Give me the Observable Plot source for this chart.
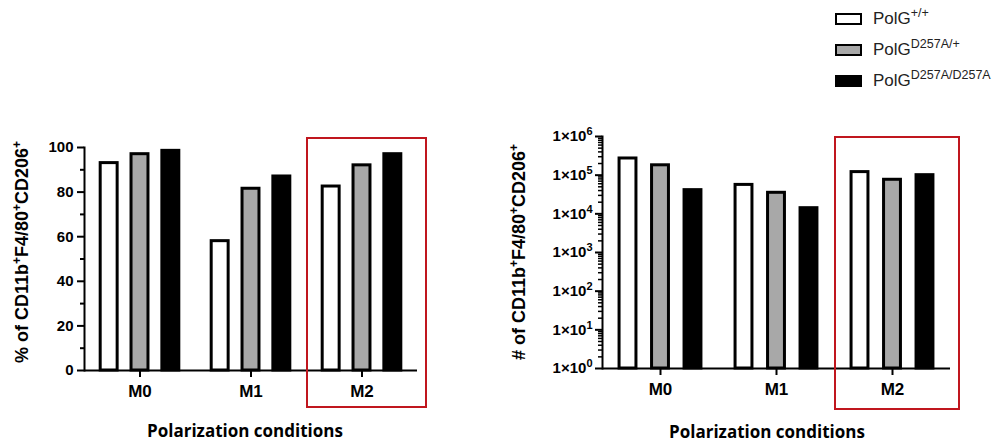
<!DOCTYPE html>
<html><head><meta charset="utf-8">
<script src="https://cdn.jsdelivr.net/npm/d3@7"></script>
<script src="https://cdn.jsdelivr.net/npm/@observablehq/plot@0.6"></script>
<style>
html,body{margin:0;padding:0;background:#fff;}
#root{position:relative;width:1003px;height:445px;overflow:hidden;background:#fff;}
#left{position:absolute;left:0;top:0;}
#right{position:absolute;left:480px;top:0;}
#legend{position:absolute;left:835px;top:0;font-family:"Liberation Sans",Arial,sans-serif;color:#222;}
.row{position:absolute;left:0;height:20px;display:flex;align-items:center;white-space:nowrap;}
.sw{width:27px;height:12px;box-sizing:border-box;border:2.5px solid #000;margin-right:11px;}
.lab{font-size:17px;}
.lab sup{font-size:12.5px;vertical-align:0;position:relative;top:-7px;}
</style></head>
<body><div id="root"><div id="left"></div><div id="right"></div><div id="legend"></div></div>
<script>
// ---- data ----
const conditions = ["M0", "M1", "M2"];
const genotypes = ["+/+", "D257A/+", "D257A/D257A"];
const genotypeFills = ["#ffffff", "#a8a8a8", "#000000"];
// % of CD11b+F4/80+CD206+
const pctWT  = [93, 58, 82.5];
const pctHet = [97, 81.5, 92];
const pctHom = [98.5, 87, 97];
// # of CD11b+F4/80+CD206+
const numWT  = [2.7e5, 5.6e4, 1.2e5];
const numHet = [1.8e5, 3.5e4, 7.6e4];
const numHom = [4.1e4, 1.4e4, 1.0e5];
// ticks
const pctTicks = [0, 20, 40, 60, 80, 100];
const pctMinorTicks = [10, 30, 50, 70, 90];
const logTicks = [1, 10, 100, 1000, 1e4, 1e5, 1e6];
const logExponents = ["0", "1", "2", "3", "4", "5", "6"];
const logMinorMultipliers = [2, 3, 4, 5, 6, 7, 8, 9];
const highlighted = "M2";

const xTitle = "Polarization conditions";

function tidy(series) {
  return conditions.flatMap((c, i) => genotypes.map((g, j) => ({cond: c, geno: g, value: series[j][i]})));
}
const pctData = tidy([pctWT, pctHet, pctHom]);
const numData = tidy([numWT, numHet, numHom]);
const logMinorTicks = logTicks.slice(0, -1).flatMap(t => logMinorMultipliers.map(m => m * t));

const FONT = "Liberation Sans, Arial, sans-serif";

function common(marginLeft, marginRight, marginTop, marginBottom, width, paddingInner) {
  return {
    width, height: 445, marginLeft, marginRight, marginTop, marginBottom,
    style: {background: "transparent", fontFamily: FONT, color: "#000", overflow: "visible"},
    fx: {domain: conditions, padding: 0, label: null},
    x: {domain: genotypes, paddingInner, paddingOuter: 0.525, round: false, axis: null},
    color: {domain: genotypes, range: genotypeFills}
  };
}

// ---- left chart ----
const left = Plot.plot({
  ...common(83, 62, 147, 75, 480, 0.45),
  y: {domain: [0, 100], label: null, axis: null},
  marks: [
    Plot.barY(pctData, {fx: "cond", x: "geno", y: "value", fill: "geno", stroke: "#000", strokeWidth: 3}),
    Plot.ruleY([0], {strokeWidth: 2}),
    Plot.frame({anchor: "left", facetAnchor: "left", strokeWidth: 2}),
    Plot.axisY(pctMinorTicks, {tickSize: 4, tickFormat: () => "", strokeWidth: 2, label: null}),
    Plot.axisY(pctTicks, {tickSize: 7, tickPadding: 4, strokeWidth: 2, fontSize: 15, fontWeight: "bold", label: null}),
    Plot.axisFx({anchor: "bottom", tickSize: 7, tickPadding: 7, strokeWidth: 2, fontSize: 17, fontWeight: "bold", label: null})
  ]
});
document.getElementById("left").appendChild(left);

// ---- right chart ----
const right = Plot.plot({
  ...common(122, 53, 136, 77, 523, 0.48),
  y: {type: "log", domain: [1, 1e6], label: null, axis: null},
  marks: [
    Plot.barY(numData, {fx: "cond", x: "geno", y1: 1, y2: "value", fill: "geno", stroke: "#000", strokeWidth: 3}),
    Plot.ruleY([1], {strokeWidth: 2}),
    Plot.frame({anchor: "left", facetAnchor: "left", strokeWidth: 2}),
    Plot.axisY(logMinorTicks, {tickSize: 4, tickFormat: () => "", strokeWidth: 1.5, label: null}),
    Plot.axisY(logTicks, {tickSize: 7, tickPadding: 3, strokeWidth: 2, fontSize: 15, fontWeight: "bold", label: null,
      tickFormat: d => "1×10" + logExponents[logTicks.indexOf(d)]}),
    Plot.axisFx({anchor: "bottom", tickSize: 7, tickPadding: 7, strokeWidth: 2, fontSize: 17, fontWeight: "bold", label: null})
  ]
});
document.getElementById("right").appendChild(right);

// superscript exponents on log tick labels
d3.select(right).selectAll("text").each(function() {
  const t = d3.select(this);
  const s = this.textContent;
  const m = /^1×10(\d)$/.exec(s);
  if (m && this.children.length === 0) {
    t.text("1×10");
    t.append("tspan").attr("baseline-shift", "super").attr("font-size", 11).text(m[1]);
  }
});

// ---- annotations: y titles, x titles, highlight box ----
function yTitle(svg, x, y, prefix) {
  const t = d3.select(svg).append("text")
    .attr("transform", `translate(${x},${y}) rotate(-90)`)
    .attr("text-anchor", "middle").attr("font-family", FONT)
    .attr("font-size", 18).attr("font-weight", "bold").attr("fill", "#000");
  const parts = [[prefix + " of CD11b", false], ["+", true], ["F4/80", false], ["+", true], ["CD206", false], ["+", true]];
  for (const [s, sup] of parts) {
    const sp = t.append("tspan").text(s);
    if (sup) sp.attr("baseline-shift", "super").attr("font-size", 12);
  }
}
function xTitleText(svg, x, y) {
  d3.select(svg).append("text").attr("x", x).attr("y", y)
    .attr("text-anchor", "middle").attr("font-family", "Open Sans, sans-serif")
    .attr("font-size", 17).attr("font-weight", "bold").attr("fill", "#000").text(xTitle);
}
function box(svg, chart, yTop, yBottom, padTop, padBottom) {
  const fx = chart.scale("fx"), y = chart.scale("y");
  const x0 = fx.apply(highlighted), bw = fx.bandwidth;
  const y0 = y.apply(yTop) - padTop, y1 = y.apply(yBottom) + padBottom;
  d3.select(svg).append("rect")
    .attr("x", x0 + 1).attr("y", y0).attr("width", bw + 8).attr("height", y1 - y0)
    .attr("fill", "none").attr("stroke", "#c0161e").attr("stroke-width", 2);
}

yTitle(left, 28, 252, "%");
yTitle(right, 45, 252, "#");
xTitleText(left, 245, 437);
xTitleText(right, 287, 438);
box(left, left, 100, 0, 9, 37);
box(right, right, 1e6, 1, -1, 41);

// ---- legend ----
const legend = d3.select("#legend");
const rowTops = [9, 39.5, 70.5];
genotypes.forEach((g, i) => {
  const row = legend.append("div").attr("class", "row").style("top", rowTops[i] + "px");
  row.append("div").attr("class", "sw").style("background", genotypeFills[i]);
  const lab = row.append("span").attr("class", "lab");
  lab.append("span").text("PolG");
  lab.append("sup").text(g);
});
</script>
</body></html>
